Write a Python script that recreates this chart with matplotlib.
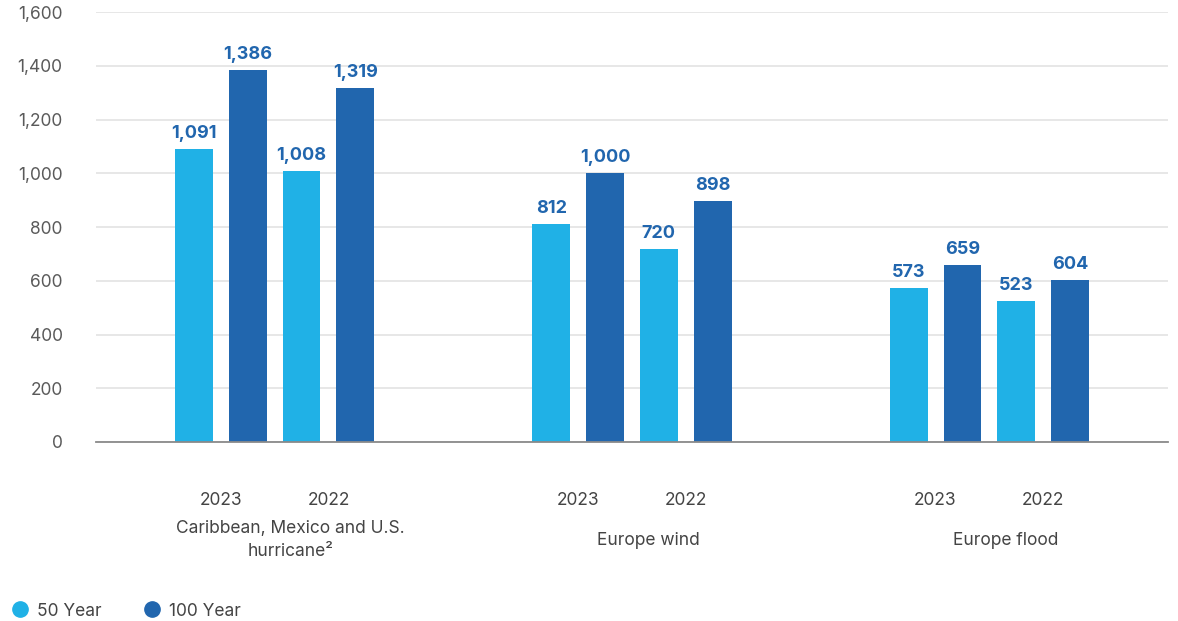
import matplotlib
matplotlib.use("Agg")
import matplotlib.pyplot as plt
from matplotlib.lines import Line2D
from matplotlib.transforms import blended_transform_factory

categories = ["Caribbean, Mexico and U.S.\nhurricane\u00b2", "Europe wind", "Europe flood"]
years = ["2023", "2022"]
# values per category: [2023 50yr, 2023 100yr, 2022 50yr, 2022 100yr]
y50_2023 = [1091, 812, 573]
y100_2023 = [1386, 1000, 659]
y50_2022 = [1008, 720, 523]
y100_2022 = [1319, 898, 604]
yticks = [0, 200, 400, 600, 800, 1000, 1200, 1400, 1600]

c50 = "#20b1e6"
c100 = "#2166ae"
tick_col = "#5a5a5a"

plt.rcParams['font.family'] = ['Inter', 'DejaVu Sans']

fig = plt.figure(figsize=(11.78, 6.21), dpi=100)
ax = fig.add_axes([96/1178, (621-442)/621, (1168-96)/1178, 430/621])

w = 0.106
offs = [-0.226, -0.075, 0.075, 0.226]
series = [(y50_2023, c50), (y100_2023, c100), (y50_2022, c50), (y100_2022, c100)]
for (vals, col), off in zip(series, offs):
    xs = [i + off for i in range(len(categories))]
    ax.bar(xs, vals, width=w, color=col, zorder=3)
    for x, v in zip(xs, vals):
        ax.annotate(f"{v:,}", (x, v), xytext=(0, 5), textcoords="offset points",
                    ha="center", va="bottom", color=c100, fontsize=13, fontweight="bold")

ax.set_xlim(-0.5, 2.5)
ax.set_ylim(0, 1600)
ax.set_yticks(yticks)
ax.set_yticklabels([f"{t:,}" for t in yticks])
ax.tick_params(axis="y", length=0, pad=24, labelsize=12.5, labelcolor=tick_col)
ax.tick_params(axis="x", length=0, labelbottom=False)
ax.grid(axis="y", color="#e3e3e3", linewidth=1.2, zorder=0)
for s in ["top", "right", "left"]:
    ax.spines[s].set_visible(False)
ax.spines["bottom"].set_color("#8a8a8a")
ax.spines["bottom"].set_linewidth(1.3)
ax.spines["bottom"].set_zorder(4)

tr = blended_transform_factory(ax.transData, ax.transAxes)
for i, cat in enumerate(categories):
    for j, yr in enumerate(years):
        xc = i + (offs[2*j] + offs[2*j+1]) / 2
        ax.text(xc, -0.137, yr, transform=tr, ha="center", va="center",
                fontsize=12.5, color="#444444")
    ax.text(i + 0.045, -0.228, cat, transform=tr, ha="center", va="center",
            fontsize=12.5, color="#444444", linespacing=1.4)

handles = [Line2D([], [], marker="o", linestyle="", markersize=11, color=c50),
           Line2D([], [], marker="o", linestyle="", markersize=11, color=c100)]
fig.legend(handles, ["50 Year", "100 Year"], loc="center left",
           bbox_to_anchor=(0.002, 1 - 611/621), ncol=2, frameon=False,
           fontsize=12.5, labelcolor="#444444", handletextpad=0.4,
           columnspacing=2.3, borderaxespad=0, handlelength=1.2)

fig.savefig("out.png", dpi=100)
